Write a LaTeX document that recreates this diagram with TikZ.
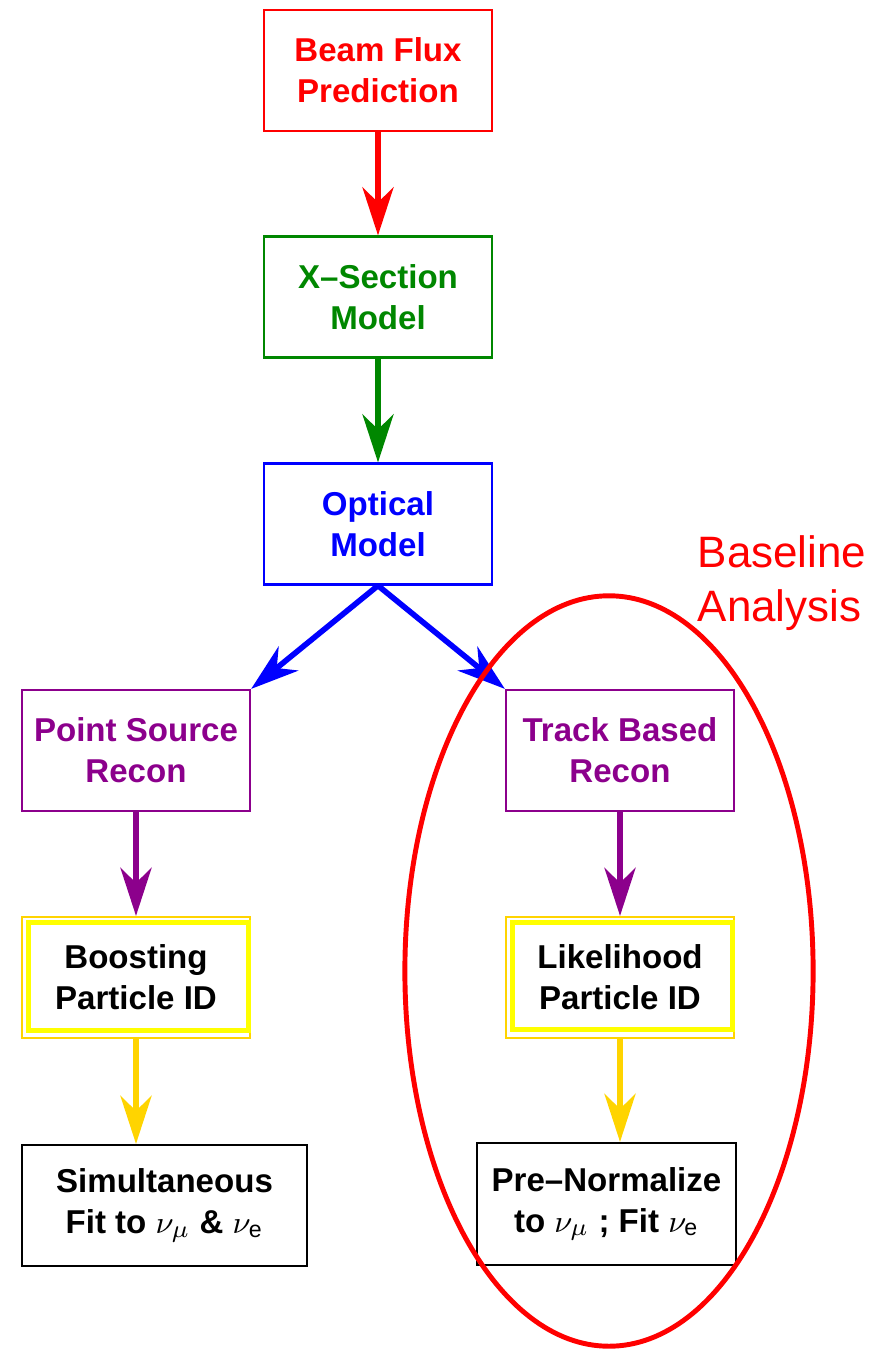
\documentclass[tikz,border=0pt]{standalone}
\usepackage{fontspec}
\setmainfont{Liberation Sans}
\usetikzlibrary{arrows.meta}

\definecolor{fluxred}{RGB}{255,0,0}
\definecolor{xsecgreen}{RGB}{0,135,0}
\definecolor{optblue}{RGB}{0,0,255}
\definecolor{reconpurple}{RGB}{140,0,140}
\definecolor{pidyellow}{RGB}{255,255,0}
\definecolor{pidgold}{RGB}{255,212,0}

\begin{document}
\begin{tikzpicture}[x=0.01cm,y=-0.01cm,
  stage/.style={draw=#1,text=#1,fill=white,line width=0.6pt,
                minimum width=2.28cm,minimum height=1.21cm,inner sep=1pt,
                align=center,font=\fontsize{9.4}{11.7}\selectfont\bfseries},
  flow/.style={draw=#1,line width=1.6pt,
               -{Stealth[length=4.8mm,width=3.1mm,inset=1.5mm]}},
  pidring/.style={draw=pidyellow,line width=1.4pt}]
  \useasboundingbox (0,0) rectangle (875,1352);
  % Simulation chain down the middle.
  \node[stage=fluxred] (flux) at (378,70.5) {Beam Flux\\Prediction};
  \node[stage=xsecgreen] (xsec) at (378,297) {X--Section\\Model};
  \node[stage=optblue] (optic) at (378,524) {Optical\\Model};
  % The two reconstruction branches.
  \node[stage=reconpurple] (psrc) at (136,750.5) {Point Source\\Recon};
  \node[stage=reconpurple] (trk) at (620,750.5) {Track Based\\Recon};
  \node[stage=pidgold,text=black] (boost) at (136,977.5) {Boosting\\Particle ID};
  \node[stage=pidgold,text=black] (lhood) at (620,977.5) {Likelihood\\Particle ID};
  \draw[pidring] ([shift={(7.5,6.5)}]boost.north west)
    rectangle ([shift={(-2.5,-8.5)}]boost.south east);
  \draw[pidring] ([shift={(7.5,7)}]lhood.north west)
    rectangle ([shift={(-3,-9.5)}]lhood.south east);
  \node[stage=black,minimum width=2.85cm] (simfit) at (164.5,1205.5)
    {Simultaneous\\Fit to $\nu_\mu$ \& $\nu_\mathrm{e}$};
  \node[stage=black,minimum width=2.59cm,minimum height=1.22cm] (prenorm) at (606.5,1204)
    {Pre--Normalize\\to $\nu_\mu$ ; Fit $\nu_\mathrm{e}$};

  \draw[flow=fluxred] (flux.south) -- (xsec.north);
  \draw[flow=xsecgreen] (xsec.south) -- (optic.north);
  \draw[flow=optblue] (optic.south) -- (psrc.north east);
  \draw[flow=optblue] (optic.south) -- (trk.north west);
  \draw[flow=reconpurple] (psrc.south) -- (boost.north);
  \draw[flow=reconpurple] (trk.south) -- (lhood.north);
  \draw[flow=pidgold] (boost.south) -- (boost.south |- simfit.north);
  \draw[flow=pidgold] (lhood.south) -- (lhood.south |- prenorm.north);

  % Ring round the baseline branch.
  \draw[fluxred,line width=1.4pt] (609,971) ellipse [x radius=2.04cm,y radius=3.75cm];
  \node[text=fluxred,align=left,inner sep=0pt,
        font=\fontsize{12.5}{15.4}\selectfont] (base) at (782,583) {Baseline\\Analysis};
\end{tikzpicture}
\end{document}
